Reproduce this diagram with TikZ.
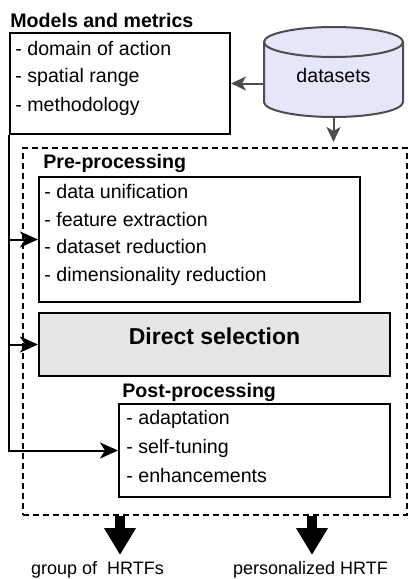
\documentclass[tikz,border=0pt]{standalone}
\usepackage{fontspec}
\setmainfont{Liberation Sans}
\usetikzlibrary{arrows.meta,fit,calc}

\definecolor{dbfill}{RGB}{230,230,250}
\definecolor{dbgray}{RGB}{77,77,77}
\definecolor{selgray}{RGB}{230,230,230}

\tikzset{
  box/.style={draw, line width=1pt, inner sep=0pt},
  head/.style={font=\fontsize{9.8}{12}\selectfont\bfseries, anchor=west, inner sep=0pt},
  item/.style={font=\fontsize{9.8}{12}\selectfont, anchor=west, inner sep=0pt, text height=7pt, text depth=2pt},
  flow/.style={line width=1pt, -{Stealth[length=9pt,width=8pt,inset=2.5pt]}},
  grayflow/.style={draw=dbgray, line width=1pt, -{Stealth[length=7.5pt,width=7pt,inset=2pt]}},
  outflow/.style={line width=5pt, -{Triangle[length=13.5pt,width=15pt]}},
  result/.style={font=\fontsize{9}{11}\selectfont, inner sep=0pt, text height=6.5pt, text depth=1.9pt},
}

\begin{document}
\begin{tikzpicture}[x=0.5pt,y=-0.5pt]
  \useasboundingbox (0,0) rectangle (408,579);

  % models and metrics
  \node[head] (mmhead) at (10,20) {Models and metrics};
  \node[box, fit={(10,33) (230,134)}] (models) {};
  \node[item] (mm1) at (15,50) {- domain of action};
  \node[item] (mm2) at (15,77) {- spatial range};
  \node[item] (mm3) at (15,106) {- methodology};

  % datasets
  \node[fit={(264,27) (403,117)}, inner sep=0pt] (db) {};
  \filldraw[fill=dbfill, draw=dbgray, line width=1pt] (264,42) -- (264,102)
    arc[start angle=180, end angle=360, x radius=34.75pt, y radius=7.5pt] -- (403,42)
    arc[start angle=0, end angle=180, x radius=34.75pt, y radius=7.5pt] -- cycle;
  \draw[dbgray, line width=1pt] (264,42) arc[start angle=180, end angle=360, x radius=34.75pt, y radius=7.5pt];
  \node[font=\fontsize{9.8}{12}\selectfont, inner sep=0pt] (dblabel) at (333.5,75) {datasets};

  % processing chain
  \node[box, dash pattern=on 3pt off 2pt, fit={(23,148) (407,515)}] (frame) {};

  \node[head] (prehead) at (43,163) {Pre-processing};
  \node[box, fit={(39,177) (360,302)}] (pre) {};
  \node[item] (pre1) at (44,193) {- data unification};
  \node[item] (pre2) at (44,221) {- feature extraction};
  \node[item] (pre3) at (44,248) {- dataset reduction};
  \node[item] (pre4) at (44,276) {- dimensionality reduction};

  \node[box, fill=selgray, fit={(39,313) (390,376)}, font=\fontsize{11.5}{14}\selectfont\bfseries] (direct) {Direct selection};

  \node[head] (posthead) at (122,392) {Post-processing};
  \node[box, fit={(119,404) (390,497)}] (post) {};
  \node[item] (post1) at (126,419) {- adaptation};
  \node[item] (post2) at (126,448) {- self-tuning};
  \node[item] (post3) at (126,477) {- enhancements};

  % connectors
  \draw[grayflow] (db.west |- models.east) -- (models.east);
  \draw[grayflow, shorten >=2.5pt] (db.south) -- (db.south |- frame.north);
  \draw[flow] (models.south west) |- (post.west);
  \draw[flow] (models.south west |- pre.west) -- (pre.west);
  \draw[flow] (models.south west |- direct.west) -- (direct.west);

  % results
  \coordinate (gtip) at (120,555);
  \coordinate (ptip) at (312,555);
  \draw[outflow] (frame.south -| gtip) -- (gtip);
  \draw[outflow] (frame.south -| ptip) -- (ptip);
  \node[result] (group) at (97.5,570) {group of\ \ HRTFs};
  \node[result] (pers) at (310.5,570) {personalized HRTF};
\end{tikzpicture}
\end{document}
